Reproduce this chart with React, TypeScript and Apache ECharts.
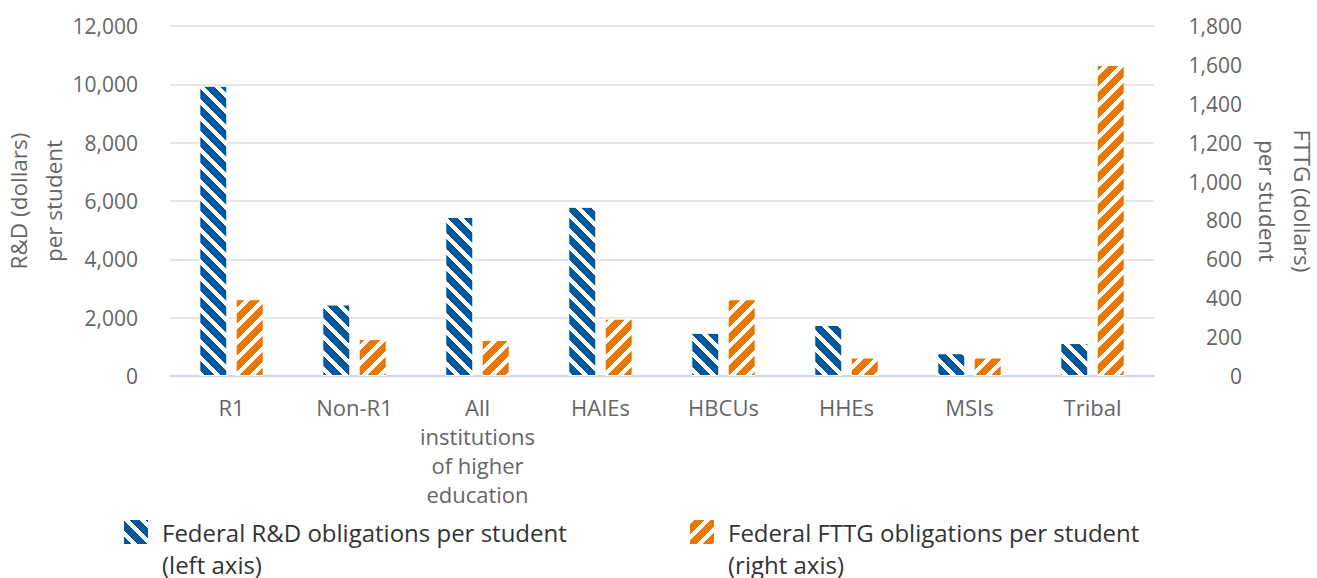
import React, { useEffect, useRef } from "react";
import * as echarts from "echarts";

const categories = ["R1", "Non-R1", "All\ninstitutions\nof higher\neducation", "HAIEs", "HBCUs", "HHEs", "MSIs", "Tribal"];
const rdPerStudent = [9950, 2450, 5450, 5800, 1480, 1750, 780, 1130];
const fttgPerStudent = [395, 190, 185, 295, 395, 95, 95, 1600];
const seriesNames = ["Federal R&D obligations per student\n(left axis)", "Federal FTTG obligations per student\n(right axis)"];
const leftTicks = { min: 0, max: 12000, interval: 2000 };
const rightTicks = { min: 0, max: 1800, interval: 200 };

const BLUE = "#00589c";
const ORANGE = "#e87600";

function makeStripe(color: string, back: boolean) {
  const P = 16;
  const W = 6;
  const c = document.createElement("canvas");
  c.width = P;
  c.height = P;
  const ctx = c.getContext("2d")!;
  ctx.fillStyle = color;
  ctx.fillRect(0, 0, P, P);
  ctx.fillStyle = "#ffffff";
  for (let y = 0; y < P; y++) {
    for (let x = 0; x < P; x++) {
      const v = back ? x - y : x + y;
      const d = ((v % P) + P) % P;
      if (d < W) ctx.fillRect(x, y, 1, 1);
    }
  }
  return { image: c, repeat: "repeat" as const };
}

const fmt = (v: number) => v.toLocaleString("en-US");

export default function App() {
  const ref = useRef<HTMLDivElement>(null);
  useEffect(() => {
    if (!ref.current) return;
    const chart = echarts.init(ref.current, undefined, { renderer: "svg" });
    const font = "Open Sans";
    const legendText = {
      color: "#333333",
      fontSize: 24,
      lineHeight: 32,
      fontFamily: font,
      padding: [0, 0, 0, 8],
    };
    const legendBase = {
      top: 479,
      icon: "rect",
      itemWidth: 26,
      itemHeight: 26,
      itemGap: 13,
      textStyle: legendText,
      formatter: (n: string) => "\n" + n,
    };
    chart.setOption({
      animation: false,
      textStyle: { fontFamily: font },
      grid: { left: 170, right: 163, top: 26, bottom: 202, containLabel: false, outerBoundsMode: "none" },
      legend: [
        { ...legendBase, data: [seriesNames[0]], left: 117 },
        { ...legendBase, data: [seriesNames[1]], left: 683 },
      ],
      xAxis: {
        type: "category",
        data: categories,
        axisLine: { lineStyle: { color: "#ccd6eb", width: 2 } },
        axisTick: { alignWithLabel: true, length: 10, lineStyle: { color: "#ccd6eb", width: 2 } },
        axisLabel: { color: "#666666", fontSize: 22, lineHeight: 29, margin: 16, interval: 0, fontFamily: font },
      },
      yAxis: [
        {
          type: "value",
          ...leftTicks,
          position: "left",
          name: "R&D (dollars)\nper student",
          nameLocation: "middle",
          nameGap: 99,
          nameMoveOverlap: false,
          nameTextStyle: { color: "#666666", fontSize: 22.5, lineHeight: 35, fontFamily: font },
          axisLine: { show: false },
          axisTick: { show: false },
          axisLabel: { color: "#666666", fontSize: 21, margin: 32, formatter: fmt, fontFamily: font },
          splitLine: { lineStyle: { color: "#e6e6e6", width: 2 } },
        },
        {
          type: "value",
          ...rightTicks,
          position: "right",
          name: "FTTG (dollars)\nper student",
          nameLocation: "middle",
          nameGap: 96,
          nameRotate: -90,
          nameMoveOverlap: false,
          nameTextStyle: { color: "#666666", fontSize: 22.5, lineHeight: 35, fontFamily: font },
          axisLine: { show: false },
          axisTick: { show: false },
          axisLabel: { color: "#666666", fontSize: 21, margin: 88, align: "right", formatter: fmt, fontFamily: font },
          splitLine: { show: false },
        },
      ],
      series: [
        {
          name: seriesNames[0],
          type: "bar",
          yAxisIndex: 0,
          data: rdPerStudent,
          barWidth: 28,
          barGap: "30%",
          itemStyle: { color: makeStripe(BLUE, true), borderColor: "#ffffff", borderWidth: 1 },
        },
        {
          name: seriesNames[1],
          type: "bar",
          yAxisIndex: 1,
          data: fttgPerStudent,
          barWidth: 28,
          barGap: "30%",
          itemStyle: { color: makeStripe(ORANGE, false), borderColor: "#ffffff", borderWidth: 1 },
        },
      ],
    });
    return () => chart.dispose();
  }, []);
  return <div ref={ref} style={{ width: 1317, height: 578, position: "absolute", left: 0, top: 0 }} />;
}
